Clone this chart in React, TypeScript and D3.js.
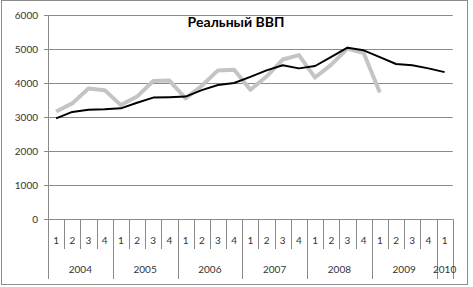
import React from "react";
import * as d3 from "d3";

const years = ["2004", "2005", "2006", "2007", "2008", "2009", "2010"];
const quarterLabels = ["1","2","3","4","1","2","3","4","1","2","3","4","1","2","3","4","1","2","3","4","1","2","3","4","1"];
const yearOfCategory = [0,0,0,0,1,1,1,1,2,2,2,2,3,3,3,3,4,4,4,4,5,5,5,5,6];
const trendValues = [2960, 3150, 3210, 3225, 3255, 3420, 3570, 3580, 3600, 3790, 3940, 4000, 4180, 4370, 4520, 4430, 4500, 4770, 5040, 4960, 4760, 4560, 4520, 4430, 4320];
const actualValues = [3160, 3400, 3840, 3790, 3350, 3600, 4060, 4070, 3550, 3920, 4370, 4390, 3800, 4190, 4690, 4820, 4160, 4540, 5010, 4880, 3720];
const yTicks = [0, 1000, 2000, 3000, 4000, 5000, 6000];
const title = "Реальный ВВП";

const W = 473, H = 287;
const left = 48, right = 452.7, top = 15, bottom = 219;
const FONT = "Lato, 'Open Sans', sans-serif";

export default function App() {
  const n = quarterLabels.length;
  const x = d3.scaleBand<number>().domain(d3.range(n)).range([left, right]).padding(0);
  const y = d3.scaleLinear().domain([0, 6000]).range([bottom, top]);
  const cx = (i: number) => (x(i) as number) + x.bandwidth() / 2;
  const line = d3.line<number>().x((_, i) => cx(i)).y((d) => y(d));

  const groups = years.map((yr, gi) => {
    const idx = yearOfCategory.map((g, i) => (g === gi ? i : -1)).filter((i) => i >= 0);
    const start = x(idx[0]) as number;
    const end = (x(idx[idx.length - 1]) as number) + x.bandwidth();
    return { yr, start, end };
  });

  return (
    <div style={{ position: "absolute", left: 0, top: 0 }}>
      <svg width={W} height={H} style={{ display: "block" }}>
        <rect x={0} y={0} width={W} height={H} fill="#ffffff" />
        <rect x={1.5} y={0.5} width={466} height={284} fill="none" stroke="#8c8c8c" strokeWidth={1} />
        {yTicks.map((t) => (
          <g key={t}>
            <line x1={44} x2={right} y1={Math.round(y(t)) + 0.5} y2={Math.round(y(t)) + 0.5} stroke="#8a8a8a" strokeWidth={1} />
            <text x={38} y={y(t)} dy="0.35em" textAnchor="end" fontFamily={FONT} fontSize={10} fill="#333">{t}</text>
          </g>
        ))}
        <line x1={left + 0.5} x2={left + 0.5} y1={top} y2={bottom} stroke="#8a8a8a" strokeWidth={1} />
        {d3.range(n + 1).map((i) => {
          const xx = i < n ? (x(i) as number) : right;
          const isYear = groups.some((g) => Math.abs(g.start - xx) < 0.01 || Math.abs(g.end - xx) < 0.01);
          return (
            <line key={i} x1={Math.round(xx) + 0.5} x2={Math.round(xx) + 0.5} y1={bottom} y2={isYear ? 279 : 249} stroke="#8a8a8a" strokeWidth={1} />
          );
        })}
        {quarterLabels.map((q, i) => (
          <text key={i} x={cx(i)} y={240} dy="0.35em" textAnchor="middle" fontFamily={FONT} fontSize={10} fill="#333">{q}</text>
        ))}
        {groups.map((g) => (
          <text key={g.yr} x={(g.start + g.end) / 2} y={269} dy="0.35em" textAnchor="middle" fontFamily={FONT} fontSize={10} fill="#333">{g.yr}</text>
        ))}
        <path d={line(actualValues) || ""} fill="none" stroke="#c4c4c4" strokeWidth={4} strokeLinejoin="round" />
        <path d={line(trendValues) || ""} fill="none" stroke="#000" strokeWidth={2} strokeLinejoin="round" />
        <text x={236} y={22} dy="0.35em" textAnchor="middle" fontFamily={FONT} fontWeight="bold" fontSize={14} fill="#000">{title}</text>
      </svg>
    </div>
  );
}
